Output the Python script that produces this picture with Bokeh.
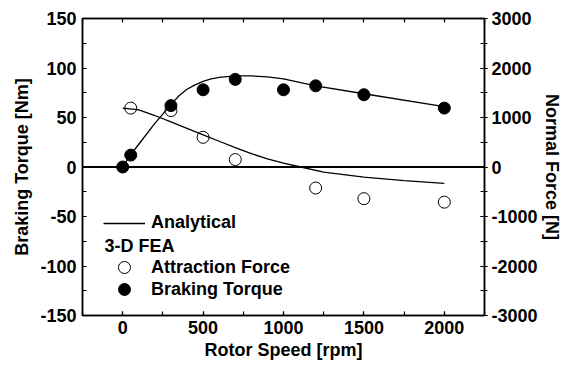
from bokeh.plotting import figure
from bokeh.models import (LinearAxis, Range1d, SingleIntervalTicker, Span,
                          Legend, LegendItem, Label, PrintfTickFormatter)
from bokeh.embed import file_html
from bokeh.resources import INLINE

# ---- data ----
# Analytical braking torque [Nm] vs rotor speed [rpm]
ana_torque_speed = [0, 50, 100, 200, 300, 350, 400, 450, 500, 550, 600, 700, 800, 900, 1000, 1200, 1500, 2000]
ana_torque = [0, 12.5, 23, 44, 63, 72, 78.5, 83, 86.5, 89, 90.5, 92, 92, 91, 89, 82, 74, 61]

# Analytical normal (attraction) force [N] vs rotor speed [rpm]
ana_force_speed = [0, 100, 200, 300, 400, 500, 600, 700, 800, 900, 1000, 1100, 1250, 1500, 1750, 2000]
ana_force = [1190, 1155, 1040, 910, 780, 650, 520, 390, 270, 165, 80, 5, -105, -205, -275, -330]

# 3-D FEA braking torque [Nm]
fea_torque_speed = [0, 50, 300, 500, 700, 1000, 1200, 1500, 2000]
fea_torque = [0, 12, 62, 78, 88.5, 78, 82, 73, 59.5]

# 3-D FEA attraction force [N]
fea_force_speed = [50, 300, 500, 700, 1200, 1500, 2000]
fea_force = [1190, 1140, 600, 150, -425, -640, -710]

FONT = "Liberation Sans"
FS = "18px"

p = figure(width=572, height=365, output_backend="svg", toolbar_location=None,
           x_range=Range1d(-250, 2250), y_range=Range1d(-150, 150),
           min_border_left=82, min_border_right=88, min_border_top=18, min_border_bottom=50)
p.extra_y_ranges = {"force": Range1d(-3000, 3000)}
p.grid.visible = False
p.outline_line_color = "black"
p.outline_line_width = 1.5
p.background_fill_color = "white"
p.border_fill_color = "white"


def style_axis(ax):
    ax.axis_line_width = 1.5
    ax.major_tick_line_width = 1.2
    ax.minor_tick_line_width = 1.2
    ax.major_label_text_font = FONT
    ax.major_label_text_font_style = "bold"
    ax.major_label_text_font_size = FS
    ax.major_label_text_color = "black"
    ax.axis_label_text_font = FONT
    ax.axis_label_text_font_style = "bold"
    ax.axis_label_text_font_size = FS
    ax.axis_label_text_color = "black"
    ax.formatter = PrintfTickFormatter(format="%d")


# bottom axis
xa = p.xaxis[0]
xa.ticker = SingleIntervalTicker(interval=500, num_minor_ticks=2)
style_axis(xa)
xa.axis_label = "Rotor Speed [rpm]"
xa.major_tick_in = 4
xa.major_tick_out = 0
xa.minor_tick_in = 4
xa.minor_tick_out = 0
xa.major_label_standoff = 5
xa.axis_label_standoff = 3

# left axis
ya = p.yaxis[0]
ya.ticker = SingleIntervalTicker(interval=50, num_minor_ticks=2)
style_axis(ya)
ya.axis_label = "Braking Torque [Nm]"
ya.major_tick_in = 4
ya.major_tick_out = 0
ya.minor_tick_in = 4
ya.minor_tick_out = 0
ya.major_label_standoff = 6
ya.axis_label_standoff = 5

# top axis (ticks only)
top = LinearAxis(ticker=SingleIntervalTicker(interval=250, num_minor_ticks=2))
style_axis(top)
top.major_label_text_font_size = "0px"
top.major_label_text_color = None
top.major_label_standoff = 0
top.major_tick_in = 4
top.major_tick_out = 0
top.minor_tick_line_color = None
p.add_layout(top, "above")

# right axis (normal force)
ra = LinearAxis(y_range_name="force",
                ticker=SingleIntervalTicker(interval=1000, num_minor_ticks=2))
style_axis(ra)
ra.axis_label = "Normal Force [N]"
ra.major_tick_in = 4
ra.major_tick_out = 3
ra.minor_tick_in = 4
ra.minor_tick_out = 3
ra.major_label_standoff = 4
ra.axis_label_standoff = 1
p.add_layout(ra, "right")

# zero line
p.add_layout(Span(location=0, dimension="width", line_color="black", line_width=2))

# analytical curves
l_torque = p.line(ana_torque_speed, ana_torque, line_color="black", line_width=1.3)
l_force = p.line(ana_force_speed, ana_force, line_color="black", line_width=1.3,
                 y_range_name="force")

# FEA points
s_force = p.scatter(fea_force_speed, fea_force, marker="circle", size=12,
                    fill_color=None, line_color="black", line_width=1,
                    y_range_name="force")
s_torque = p.scatter(fea_torque_speed, fea_torque, marker="circle", size=12,
                     fill_color="black", line_color="black")


def make_legend(label, renderer, loc, gh):
    lg = Legend(items=[LegendItem(label=label, renderers=[renderer])],
                location=loc, orientation="vertical",
                glyph_width=42, glyph_height=gh, label_standoff=6,
                label_height=20, padding=0, margin=0, spacing=0,
                border_line_color=None, background_fill_alpha=0,
                label_text_font=FONT, label_text_font_style="bold",
                label_text_font_size=FS, label_text_color="black")
    p.add_layout(lg)


make_legend("Analytical", l_torque, (21, 82), 20)
make_legend("Attraction Force", s_force, (21, 33), 30)
make_legend("Braking Torque", s_torque, (21, 11), 30)

p.add_layout(Label(x=22, y=70, x_units="screen", y_units="screen", text="3-D FEA",
                   text_font=FONT, text_font_style="bold", text_font_size=FS,
                   text_color="black", text_baseline="middle"))

open("out.html", "w").write(file_html(p, INLINE))
